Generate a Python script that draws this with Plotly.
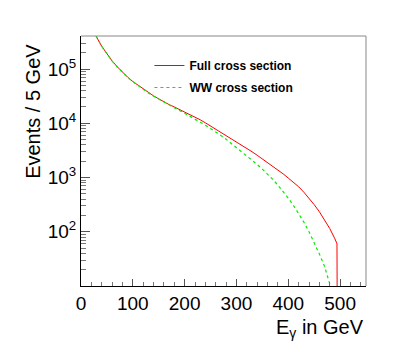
import plotly.graph_objects as go

# photon energy (GeV) and events per 5 GeV
e_full = [25, 30, 40, 50, 60, 70, 80, 90, 100, 110, 120, 130, 140, 150, 160, 170, 180,
          190, 200, 210, 220, 230, 240, 250, 260, 270, 280, 290, 300, 310, 320, 330,
          340, 350, 360, 370, 380, 390, 400, 410, 420, 430, 440, 450, 460, 470, 480,
          490, 494, 495]
n_full = [5.25e5, 3.89e5, 2.63e5, 1.91e5, 1.41e5, 1.10e5, 8.71e4, 7.08e4, 5.89e4, 5.01e4,
          4.27e4, 3.67e4, 3.20e4, 2.82e4, 2.48e4, 2.21e4, 2.00e4, 1.80e4, 1.62e4, 1.46e4,
          1.30e4, 1.16e4, 1.02e4, 8.91e3, 7.67e3, 6.76e3, 5.96e3, 5.25e3, 4.57e3, 3.98e3,
          3.47e3, 2.99e3, 2.57e3, 2.21e3, 1.88e3, 1.62e3, 1.38e3, 1.17e3, 977, 813,
          676, 537, 417, 316, 234, 166, 115, 74, 60, 0.1]

e_ww = [25, 30, 40, 50, 60, 70, 80, 90, 100, 110, 120, 130, 140, 150, 160, 170, 180,
        190, 200, 210, 220, 230, 240, 250, 260, 270, 280, 290, 300, 310, 320, 330,
        340, 350, 360, 370, 380, 390, 400, 410, 420, 430, 440, 450, 460, 470, 480,
        485, 490]
n_ww = [5.25e5, 3.89e5, 2.62e5, 1.90e5, 1.40e5, 1.09e5, 8.65e4, 7.03e4, 5.84e4, 4.96e4,
        4.22e4, 3.63e4, 3.16e4, 2.78e4, 2.45e4, 2.16e4, 1.93e4, 1.72e4, 1.53e4, 1.36e4,
        1.20e4, 1.06e4, 9.23e3, 8.04e3, 7.00e3, 5.96e3, 5.07e3, 4.27e3, 3.59e3, 3.02e3,
        2.54e3, 2.11e3, 1.74e3, 1.43e3, 1.16e3, 923, 724, 556, 417, 305,
        219, 151, 100, 63, 39, 23, 11.5, 7.6, 3.2]

y_major = [1e2, 1e3, 1e4, 1e5]
y_major_text = ["10<sup>2</sup>", "10<sup>3</sup>", "10<sup>4</sup>", "10<sup>5</sup>"]

FONT = "Liberation Sans, Arial, sans-serif"

fig = go.Figure()
fig.add_trace(go.Scatter(x=e_full, y=n_full, mode="lines", name="Full cross section",
                         legendgroup="a", line=dict(color="#ff0000", width=1)))
fig.add_trace(go.Scatter(x=e_ww, y=n_ww, mode="lines", name="WW cross section",
                         legendgroup="b", line=dict(color="#00ee00", width=1.2, dash="dot")))

minor_y = [m * 10 ** k for k in range(1, 6) for m in range(2, 10)]

fig.update_layout(
    width=407, height=358,
    margin=dict(l=81, r=41, t=36, b=72),
    paper_bgcolor="white", plot_bgcolor="white",
    font=dict(family=FONT, color="black"),
    showlegend=True,
    legend=dict(x=0.24, y=0.94, xanchor="left", yanchor="top",
                bgcolor="rgba(0,0,0,0)", tracegroupgap=3,
                font=dict(size=12, family="Liberation Sans, Arial", weight="bold")),
    xaxis=dict(range=[0, 550], showgrid=False, zeroline=False,
               showline=True, linecolor="black", linewidth=1,
               ticks="inside", ticklen=7, tickcolor="#555", dtick=100, tick0=0,
               tickfont=dict(size=19),
               minor=dict(ticks="inside", ticklen=4, dtick=20, tickcolor="#777", showgrid=False)),
    yaxis=dict(type="log", range=[1, 5.609], showgrid=False, zeroline=False,
               showline=True, linecolor="black", linewidth=1,
               ticks="inside", ticklen=9, tickcolor="#555",
               tickvals=y_major, ticktext=y_major_text,
               tickfont=dict(size=19),
               minor=dict(ticks="inside", ticklen=5, tickvals=minor_y, tickcolor="#777", showgrid=False)),
)

# top and right frame lines
fig.add_shape(type="line", xref="paper", yref="paper", x0=0, x1=1, y0=1, y1=1,
              line=dict(color="#888", width=1))
fig.add_shape(type="line", xref="paper", yref="paper", x0=1, x1=1, y0=0, y1=1,
              line=dict(color="#888", width=1))

fig.add_annotation(text="E<sub>γ</sub> in GeV", xref="paper", yref="paper",
                   x=1.0, y=-0.11, xanchor="right", yanchor="top", showarrow=False,
                   font=dict(size=20))
fig.add_annotation(text="Events / 5 GeV", xref="paper", yref="paper",
                   x=-0.168, y=0.975, xanchor="center", yanchor="top", textangle=-90,
                   showarrow=False, font=dict(size=20))

fig.write_html("out.html", config={"displayModeBar": False},
               post_script="document.body.style.margin='0px';")
